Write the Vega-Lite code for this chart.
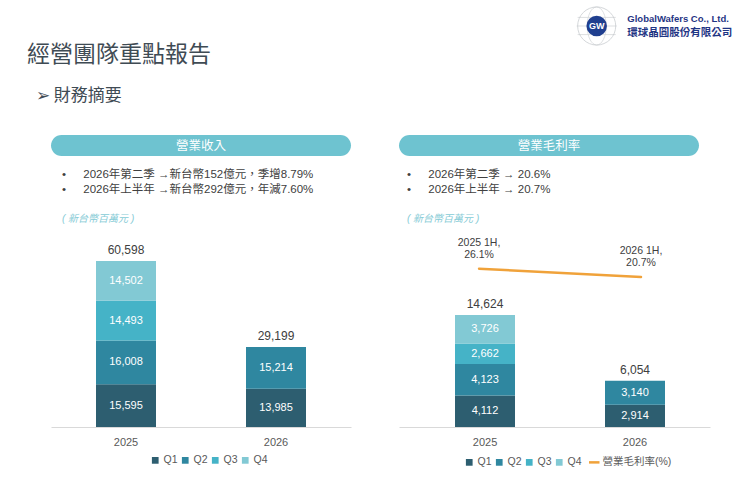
{
  "$schema": "https://vega.github.io/schema/vega-lite/v6.json",
  "background": "white",
  "padding": {"left": 27, "top": 4, "right": 0, "bottom": 0},
  "config": {
    "view": {"stroke": null},
    "font": "Liberation Sans, Noto Sans CJK TC",
    "axisX": {"labelAngle": 0, "ticks": false, "domainColor": "#d9d9d9", "labelColor": "#595959", "labelFontSize": 11, "labelPadding": 9, "title": null, "grid": false},
    "legend": {"orient": "none", "direction": "horizontal", "title": null, "symbolType": "square", "symbolSize": 45, "symbolStrokeWidth": 0, "labelFontSize": 10.5, "labelColor": "#595959", "columnPadding": 2, "labelOffset": 3}
  },
  "resolve": {"scale": {"x": "independent", "y": "independent", "color": "independent"}},
  "spacing": 19,
  "vconcat": [
    {
      "width": 713,
      "height": 40,
      "title": {
        "text": "經營團隊重點報告",
        "orient": "bottom", "anchor": "start", "frame": "group", "offset": -3,
        "font": "Noto Sans CJK TC", "fontSize": 23, "fontWeight": "normal", "color": "#3f4b54"
      },
      "data": {"values": [{"abbr": "GW", "en": "GlobalWafers Co., Ltd.", "zh": "環球晶圓股份有限公司"}]},
      "layer": [
        {
          "mark": {"type": "point", "shape": "circle", "size": 1450, "filled": true, "fill": "white", "stroke": "#c4c8cc", "strokeWidth": 1},
          "encoding": {
            "x": {"datum": 79.9, "type": "quantitative", "scale": {"domain": [0, 100]}, "axis": null},
            "y": {"datum": 52.5, "type": "quantitative", "scale": {"domain": [0, 100]}, "axis": null}
          }
        },
        {
          "mark": {"type": "point", "shape": "M0,-1A0.5,1 0 1,0 0,1A0.5,1 0 1,0 0,-1M-1,-0.45H1M-1,0.45H1M-1.05,0H1.05", "size": 1450, "filled": false, "stroke": "#c4c8cc", "strokeWidth": 0.8},
          "encoding": {
            "x": {"datum": 79.9, "type": "quantitative", "scale": {"domain": [0, 100]}, "axis": null},
            "y": {"datum": 52.5, "type": "quantitative", "scale": {"domain": [0, 100]}, "axis": null}
          }
        },
        {
          "mark": {"type": "point", "shape": "circle", "size": 420, "filled": true, "color": "#203f8f", "opacity": 1},
          "encoding": {
            "x": {"datum": 79.9, "type": "quantitative", "scale": {"domain": [0, 100]}, "axis": null},
            "y": {"datum": 52.5, "type": "quantitative", "scale": {"domain": [0, 100]}, "axis": null}
          }
        },
        {
          "mark": {"type": "text", "color": "white", "fontSize": 9, "fontWeight": "bold", "font": "Liberation Sans"},
          "encoding": {
            "x": {"datum": 79.9, "type": "quantitative", "scale": {"domain": [0, 100]}, "axis": null},
            "y": {"datum": 52.5, "type": "quantitative", "scale": {"domain": [0, 100]}, "axis": null},
            "text": {"field": "abbr"}
          }
        },
        {
          "mark": {"type": "text", "align": "left", "color": "#1f3584", "fontSize": 9.5, "fontWeight": "bold", "font": "Liberation Sans"},
          "encoding": {
            "x": {"datum": 84.2, "type": "quantitative", "scale": {"domain": [0, 100]}, "axis": null},
            "y": {"datum": 70, "type": "quantitative", "scale": {"domain": [0, 100]}, "axis": null},
            "text": {"field": "en"}
          }
        },
        {
          "mark": {"type": "text", "align": "left", "color": "#1f3584", "fontSize": 10.5, "fontWeight": "bold", "font": "Noto Sans CJK TC"},
          "encoding": {
            "x": {"datum": 84.2, "type": "quantitative", "scale": {"domain": [0, 100]}, "axis": null},
            "y": {"datum": 35, "type": "quantitative", "scale": {"domain": [0, 100]}, "axis": null},
            "text": {"field": "zh"}
          }
        }
      ]
    },
    {
      "title": {
        "text": "➢ 財務摘要",
        "anchor": "start", "frame": "group", "dx": 9, "offset": 30,
        "font": "Noto Sans CJK TC", "fontSize": 17, "fontWeight": "normal", "color": "#3f4b54"
      },
      "spacing": 0,
      "resolve": {"scale": {"x": "independent", "y": "independent", "color": "independent"}},
      "hconcat": [
        {"width": 24, "height": 10, "data": {"values": [{"a": 0}]}, "mark": {"type": "rect", "opacity": 0}, "encoding": {}},
        {
          "spacing": 48,
          "resolve": {"scale": {"x": "independent", "y": "independent", "color": "independent"}},
          "hconcat": [
            {
              "spacing": 12,
              "vconcat": [
                {
                  "width": 300,
                  "height": 21,
                  "data": {"values": [{"header": "營業收入"}]},
                  "layer": [
                    {"mark": {"type": "rect", "cornerRadius": 10.5, "color": "#6ec3d0"}, "encoding": {}},
                    {"mark": {"type": "text", "color": "white", "fontSize": 12.5, "font": "Noto Sans CJK TC"}, "encoding": {"text": {"field": "header"}}}
                  ]
                },
                {
                  "width": 300,
                  "height": 186,
                  "title": {
                    "text": ["•\u2003\u20022026年第二季 →新台幣152億元，季增8.79%", "•\u2003\u20022026年上半年 →新台幣292億元，年減7.60%"],
                    "subtitle": "( 新台幣百萬元 )",
                    "anchor": "start", "frame": "group", "dx": 11, "offset": 17,
                    "fontSize": 11.5, "fontWeight": "normal", "color": "#404040", "lineHeight": 15,
                    "subtitleFontSize": 10, "subtitleFontStyle": "italic", "subtitleColor": "#86cbd6", "subtitlePadding": 19
                  },
                  "layer": [
                    {
                      "data": {"values": [
                        {"year": "2025", "quarter": "Q1", "value": 15595},
                        {"year": "2025", "quarter": "Q2", "value": 16008},
                        {"year": "2025", "quarter": "Q3", "value": 14493},
                        {"year": "2025", "quarter": "Q4", "value": 14502},
                        {"year": "2026", "quarter": "Q1", "value": 13985},
                        {"year": "2026", "quarter": "Q2", "value": 15214}
                      ]},
                      "transform": [
                        {"stack": "value", "groupby": ["year"], "sort": [{"field": "quarter"}], "as": ["v0", "v1"]},
                        {"calculate": "(datum.v0 + datum.v1) / 2", "as": "mid"}
                      ],
                      "layer": [
                        {
                          "mark": {"type": "bar"},
                          "encoding": {
                            "x": {"field": "year", "type": "nominal", "scale": {"paddingInner": 0.6, "paddingOuter": 0.3}},
                            "y": {"field": "v1", "type": "quantitative", "scale": {"domain": [0, 67900], "nice": false}, "axis": null},
                            "y2": {"field": "v0"},
                            "color": {
                              "field": "quarter", "type": "nominal",
                              "scale": {"domain": ["Q1", "Q2", "Q3", "Q4"], "range": ["#2d5e70", "#2f87a0", "#45b3c7", "#82c9d4"]},
                              "legend": {"orient": "none", "direction": "horizontal", "legendX": 99, "legendY": 320}
                            }
                          }
                        },
                        {
                          "mark": {"type": "text", "color": "white", "fontSize": 11},
                          "encoding": {
                            "x": {"field": "year", "type": "nominal"},
                            "y": {"field": "mid", "type": "quantitative", "axis": null},
                            "text": {"field": "value", "type": "quantitative", "format": ","}
                          }
                        }
                      ]
                    },
                    {
                      "data": {"values": [
                        {"year": "2025", "total": 60598},
                        {"year": "2026", "total": 29199}
                      ]},
                      "mark": {"type": "text", "fontSize": 12, "color": "#404040", "dy": -11},
                      "encoding": {
                        "x": {"field": "year", "type": "nominal"},
                        "y": {"field": "total", "type": "quantitative", "axis": null},
                        "text": {"field": "total", "type": "quantitative", "format": ","}
                      }
                    }
                  ]
                }
              ]
            },
            {
              "spacing": 12,
              "vconcat": [
                {
                  "width": 300,
                  "height": 21,
                  "data": {"values": [{"header": "營業毛利率"}]},
                  "layer": [
                    {"mark": {"type": "rect", "cornerRadius": 10.5, "color": "#6ec3d0"}, "encoding": {}},
                    {"mark": {"type": "text", "color": "white", "fontSize": 12.5, "font": "Noto Sans CJK TC"}, "encoding": {"text": {"field": "header"}}}
                  ]
                },
                {
                  "width": 311,
                  "height": 197,
                  "title": {
                    "text": ["•\u2003\u20022026年第二季 → 20.6%", "•\u2003\u20022026年上半年 → 20.7%"],
                    "subtitle": "( 新台幣百萬元 )",
                    "anchor": "start", "frame": "group", "dx": 8, "offset": 6,
                    "fontSize": 11.5, "fontWeight": "normal", "color": "#404040", "lineHeight": 15,
                    "subtitleFontSize": 10, "subtitleFontStyle": "italic", "subtitleColor": "#86cbd6", "subtitlePadding": 19
                  },
                  "resolve": {"scale": {"x": "independent", "y": "independent"}},
                  "layer": [
                    {
                      "layer": [
                        {
                          "data": {"values": [
                            {"year": "2025", "quarter": "Q1", "value": 4112},
                            {"year": "2025", "quarter": "Q2", "value": 4123},
                            {"year": "2025", "quarter": "Q3", "value": 2662},
                            {"year": "2025", "quarter": "Q4", "value": 3726},
                            {"year": "2026", "quarter": "Q1", "value": 2914},
                            {"year": "2026", "quarter": "Q2", "value": 3140}
                          ]},
                          "transform": [
                            {"stack": "value", "groupby": ["year"], "sort": [{"field": "quarter"}], "as": ["v0", "v1"]},
                            {"calculate": "(datum.v0 + datum.v1) / 2", "as": "mid"}
                          ],
                          "layer": [
                            {
                              "mark": {"type": "bar"},
                              "encoding": {
                                "x": {"field": "year", "type": "nominal", "scale": {"paddingInner": 0.6, "paddingOuter": 0.3367, "align": 0.5545}},
                                "y": {"field": "v1", "type": "quantitative", "scale": {"domain": [0, 25720], "nice": false}, "axis": null},
                                "y2": {"field": "v0"},
                                "color": {
                                  "field": "quarter", "type": "nominal",
                                  "scale": {"domain": ["Q1", "Q2", "Q3", "Q4", "營業毛利率(%)"], "range": ["#2d5e70", "#2f87a0", "#45b3c7", "#82c9d4", "#f0a23a"]},
                                  "legend": {
                                    "orient": "none", "direction": "horizontal", "legendX": 65, "legendY": 322,
                                    "encode": {"symbols": {"update": {
                                      "shape": {"signal": "datum.label === '營業毛利率(%)' ? 'stroke' : 'square'"},
                                      "size": {"signal": "datum.label === '營業毛利率(%)' ? 110 : 45"},
                                      "stroke": {"signal": "datum.label === '營業毛利率(%)' ? '#f0a23a' : null"},
                                      "strokeWidth": {"signal": "datum.label === '營業毛利率(%)' ? 2.5 : 0"}
                                    }}}
                                  }
                                }
                              }
                            },
                            {
                              "mark": {"type": "text", "color": "white", "fontSize": 11},
                              "encoding": {
                                "x": {"field": "year", "type": "nominal"},
                                "y": {"field": "mid", "type": "quantitative", "axis": null},
                                "text": {"field": "value", "type": "quantitative", "format": ","}
                              }
                            }
                          ]
                        },
                        {
                          "data": {"values": [
                            {"year": "2025", "total": 14624},
                            {"year": "2026", "total": 6054}
                          ]},
                          "mark": {"type": "text", "fontSize": 12, "color": "#404040", "dy": -11},
                          "encoding": {
                            "x": {"field": "year", "type": "nominal"},
                            "y": {"field": "total", "type": "quantitative", "axis": null},
                            "text": {"field": "total", "type": "quantitative", "format": ","}
                          }
                        }
                      ]
                    },
                    {
                      "data": {"values": [
                        {"year": "2025", "period": "2025 1H", "rate": 26.1},
                        {"year": "2026", "period": "2026 1H", "rate": 20.7}
                      ]},
                      "transform": [
                        {"calculate": "datum.period + ',\\n' + format(datum.rate, '.1f') + '%'", "as": "label"}
                      ],
                      "layer": [
                        {
                          "mark": {"type": "line", "strokeWidth": 2.5, "strokeCap": "round"},
                          "encoding": {
                            "x": {"field": "year", "type": "nominal", "scale": {"type": "point", "padding": 0.46, "align": 0.537}, "axis": null},
                            "y": {"field": "rate", "type": "quantitative", "scale": {"domain": [-78, 51.6], "nice": false, "zero": false}, "axis": null},
                            "color": {"datum": "營業毛利率(%)"}
                          }
                        },
                        {
                          "mark": {"type": "text", "baseline": "bottom", "dy": -21, "fontSize": 10.5, "color": "#404040", "lineBreak": "\n", "lineHeight": 12},
                          "encoding": {
                            "x": {"field": "year", "type": "nominal", "scale": {"type": "point", "padding": 0.46, "align": 0.537}, "axis": null},
                            "y": {"field": "rate", "type": "quantitative", "scale": {"domain": [-78, 51.6], "nice": false, "zero": false}, "axis": null},
                            "text": {"field": "label"}
                          }
                        }
                      ]
                    }
                  ]
                }
              ]
            }
          ]
        }
      ]
    }
  ]
}
